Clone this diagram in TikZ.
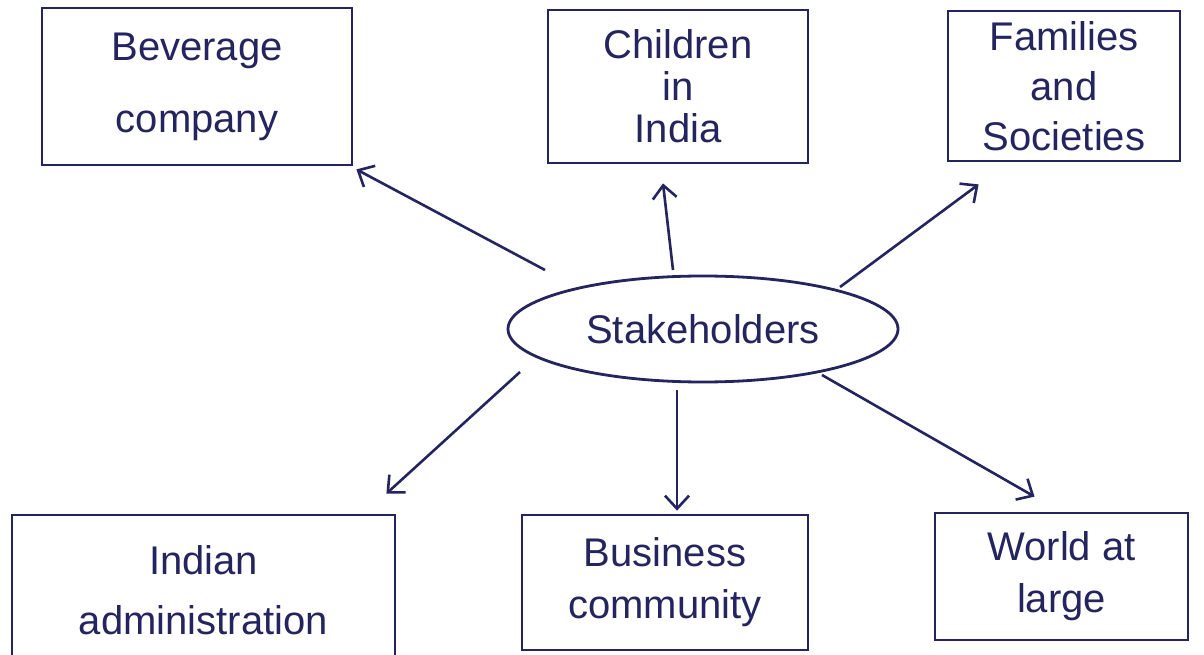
\documentclass[tikz,border=0pt]{standalone}
\usepackage{fontspec}
\setmainfont{Liberation Sans}
\usetikzlibrary{arrows.meta,calc,shapes.geometric}
\definecolor{ink}{HTML}{24245E}
\newcommand{\lab}[1]{\fontsize{40}{#1}\selectfont}
\begin{document}
\begin{tikzpicture}[x=1pt,y=-1pt,
  every node/.style={text=ink},
  box/.style={draw=ink, line width=2.8pt, rectangle, inner sep=0pt, align=center},
  hub/.style={draw=ink, line width=2.8pt, ellipse, inner sep=0pt},
  link/.style={draw=ink, line width=2.6pt, -{Straight Barb[length=13pt,width=24pt,line width=2.6pt]}}]
  \useasboundingbox (0,0) rectangle (1204,655);
  \clip (0,0) rectangle (1204,655);
  \fill[white] (0,0) rectangle (1204,655);

  % stakeholder boxes
  \node[box, minimum width=310, minimum height=157, font=\lab{72}] (bev) at (197,86.5) {Beverage\\company};
  \node[box, minimum width=260, minimum height=153, font=\lab{42}] (chi) at (678,86.5) {Children\\in\\India};
  \node[box, minimum width=232, minimum height=150, font=\lab{50}] (fam) at (1064,86) {Families\\and\\Societies};
  \node[box, minimum width=383, minimum height=150, font=\lab{60}] (ind) at (203.5,590) {Indian\\administration};
  \node[box, minimum width=286, minimum height=135, font=\lab{52}] (bus) at (665,582.5) {Business\\community};
  \node[box, minimum width=253, minimum height=127, font=\lab{52}] (wor) at (1061.5,576.5) {World at\\large};

  % central ellipse
  \node[hub, minimum width=390, minimum height=106, font=\lab{48}] (s) at (703,329) {Stakeholders};

  % arrow starts around the ellipse
  \coordinate (s1) at ($(s.center)+(-158,-59)$);
  \coordinate (s2) at ($(s.center)+(-30,-59)$);
  \coordinate (s3) at ($(s.center)+(137,-42)$);
  \coordinate (s4) at ($(s.center)+(-183,43)$);
  \coordinate (s5) at ($(s.center)+(-26,61)$);
  \coordinate (s6) at ($(s.center)+(119,46)$);

  \draw[link] (s1) -- ($(bev.south east)+(3,3)$);
  \draw[link] (s2) -- ($(chi.south)+(-15,19)$);
  \draw[link] (s3) -- ($(fam.south west)+(32,22)$);
  \draw[link] (s4) -- ($(ind.north east)+(-10,-20)$);
  \draw[link] (s5) -- ($(bus.north)+(12,-3)$);
  \draw[link] (s6) -- ($(wor.north)+(-27,-15)$);
\end{tikzpicture}
\end{document}
